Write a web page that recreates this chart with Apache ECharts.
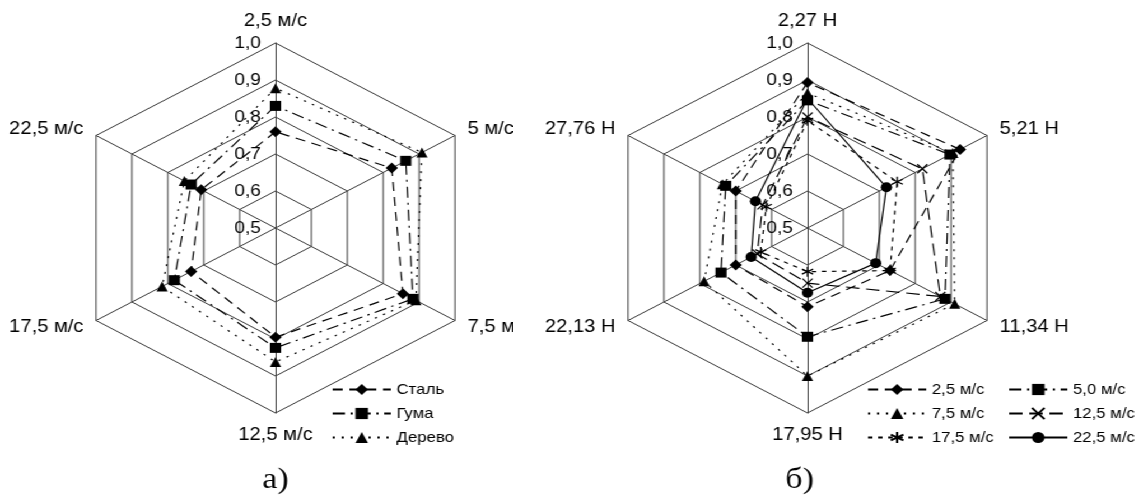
<!DOCTYPE html>
<html>
<head>
<meta charset="utf-8">
<script src="https://cdn.jsdelivr.net/npm/echarts@6/dist/echarts.min.js"></script>
<style>
html, body { margin: 0; padding: 0; background: #fff; overflow: hidden; }
/* the original picture is stretched horizontally */
#wrap { position: absolute; left: 0; top: 0; width: 1017px; height: 497px; transform: scaleX(1.12); transform-origin: 0 0; }
#left { position: absolute; left: 0; top: 0; width: 458px; height: 497px; overflow: hidden; }
#right { position: absolute; left: 458px; top: 0; width: 559px; height: 497px; }
</style>
</head>
<body>
<div id="wrap">
	<div id="left"></div>
	<div id="right"></div>
</div>
<script>
// а) speeds, clockwise from the top
const speedsA = ['2,5 м/с', '5 м/с', '7,5 м/с', '12,5 м/с', '17,5 м/с', '22,5 м/с'];
const steel = [0.76, 0.824, 0.855, 0.795, 0.735, 0.707];
const rubber = [0.83, 0.863, 0.883, 0.824, 0.782, 0.735];
const wood = [0.878, 0.908, 0.891, 0.862, 0.816, 0.754];

// б) forces, clockwise from the top
const forcesB = ['2,27 Н', '5,21 Н', '11,34 Н', '17,95 Н', '22,13 Н', '27,76 Н'];
const v2_5 = [0.893, 0.925, 0.73, 0.713, 0.70, 0.70];
const v5_0 = [0.845, 0.897, 0.883, 0.794, 0.741, 0.728];
const v7_5 = [0.865, 0.905, 0.91, 0.90, 0.788, 0.737];
const v12_5 = [0.80, 0.82, 0.87, 0.649, 0.64, 0.625];
const v17_5 = [0.79, 0.75, 0.73, 0.618, 0.63, 0.615];
const v22_5 = [0.85, 0.72, 0.69, 0.675, 0.657, 0.645];

// axis range
const axisMin = 0.5;
const axisMax = 1.0;

const FONT = '"Liberation Sans", Arial, sans-serif';
const SYM_X = 'path://M0,0L10,10M10,0L0,10';
const SYM_STAR = 'path://M5,0L5,10M0.7,2.5L9.3,7.5M0.7,7.5L9.3,2.5';

// echarts radar runs counter-clockwise
function ccw(arr) {
	return [arr[0], arr[5], arr[4], arr[3], arr[2], arr[1]];
}

function radarOpt(names, cx) {
	return {
		indicator: ccw(names).map(function (n, i) {
			const ind = { name: n, min: axisMin, max: axisMax };
			if (i === 0) ind.axisLabel = { show: true };
			return ind;
		}),
		center: [cx, 228],
		radius: 185,
		startAngle: 90,
		splitNumber: 5,
		shape: 'polygon',
		nameGap: 13,
		axisName: { color: '#000', fontSize: 18, fontFamily: FONT },
		axisLine: { lineStyle: { color: '#3a3a3a', width: 1 } },
		splitLine: { lineStyle: { color: '#3a3a3a', width: 1 } },
		splitArea: { show: false },
		axisTick: { show: false },
		axisLabel: {
			show: false,
			color: '#000',
			fontSize: 17,
			fontFamily: FONT,
			margin: 13,
			formatter: function (v) { return v.toFixed(1).replace('.', ','); }
		}
	};
}

// line series with no data only give the legend its icon
function buildSeries(list) {
	const res = [];
	list.forEach(function (s) {
		const itemStyle = { color: '#000', borderColor: '#000', borderWidth: s.border || 0 };
		const lineStyle = { color: '#000', width: 1.2, type: s.dash };
		res.push({
			type: 'line', name: s.name, data: [], symbol: s.symbol,
			lineStyle: lineStyle, itemStyle: itemStyle
		});
	});
	list.forEach(function (s) {
		res.push({
			type: 'radar', name: s.name, symbol: s.symbol, symbolSize: s.size,
			lineStyle: { color: '#000', width: 1.2, type: s.dash },
			itemStyle: { color: '#000', borderColor: '#000', borderWidth: s.border || 0 },
			data: [{ value: ccw(s.values), name: s.name }]
		});
	});
	return res;
}

function legendOpt(names, left) {
	return {
		data: names,
		orient: 'vertical',
		left: left,
		top: 377,
		itemWidth: 52,
		itemHeight: 14,
		itemGap: 9,
		selectedMode: false,
		textStyle: { color: '#000', fontSize: 15, fontFamily: FONT }
	};
}

function hiddenGrid() {
	return {
		grid: { show: false, left: 0, top: 0, width: 1, height: 1 },
		xAxis: { type: 'value', show: false },
		yAxis: { type: 'value', show: false }
	};
}

function caption(text, x) {
	return [{
		type: 'text', x: x, y: 480,
		style: { text: text, fill: '#000', font: '30px "Liberation Serif", serif', align: 'center', verticalAlign: 'middle' }
	}];
}

// chart a)
const seriesA = [
	{ name: 'Сталь', values: steel, symbol: 'diamond', size: 11, dash: [9, 6] },
	{ name: 'Гума', values: rubber, symbol: 'rect', size: 10, dash: [11, 5, 2, 5] },
	{ name: 'Дерево', values: wood, symbol: 'triangle', size: 10, dash: [2, 6] }
];
const chartA = echarts.init(document.getElementById('left'));
chartA.setOption(Object.assign(hiddenGrid(), {
	animation: false,
	radar: radarOpt(speedsA, 246),
	legend: legendOpt(seriesA.map(function (s) { return s.name; }), 291),
	series: buildSeries(seriesA),
	graphic: caption('а)', 246)
}));

// chart б)
const seriesB = [
	{ name: '2,5 м/с', values: v2_5, symbol: 'diamond', size: 11, dash: [9, 6] },
	{ name: '5,0 м/с', values: v5_0, symbol: 'rect', size: 10, dash: [11, 5, 2, 5] },
	{ name: '7,5 м/с', values: v7_5, symbol: 'triangle', size: 10, dash: [2, 6] },
	{ name: '12,5 м/с', values: v12_5, symbol: SYM_X, size: 9, dash: [12, 6], border: 1.3 },
	{ name: '17,5 м/с', values: v17_5, symbol: SYM_STAR, size: 10, dash: [4, 5], border: 1.3 },
	{ name: '22,5 м/с', values: v22_5, symbol: 'circle', size: 10, dash: 'solid' }
];
const chartB = echarts.init(document.getElementById('right'));
chartB.setOption(Object.assign(hiddenGrid(), {
	animation: false,
	radar: radarOpt(forcesB, 263),
	legend: [
		legendOpt(['2,5 м/с', '7,5 м/с', '17,5 м/с'], 311),
		legendOpt(['5,0 м/с', '12,5 м/с', '22,5 м/с'], 437)
	],
	series: buildSeries(seriesB),
	graphic: caption('б)', 256)
}));
</script>
</body>
</html>
